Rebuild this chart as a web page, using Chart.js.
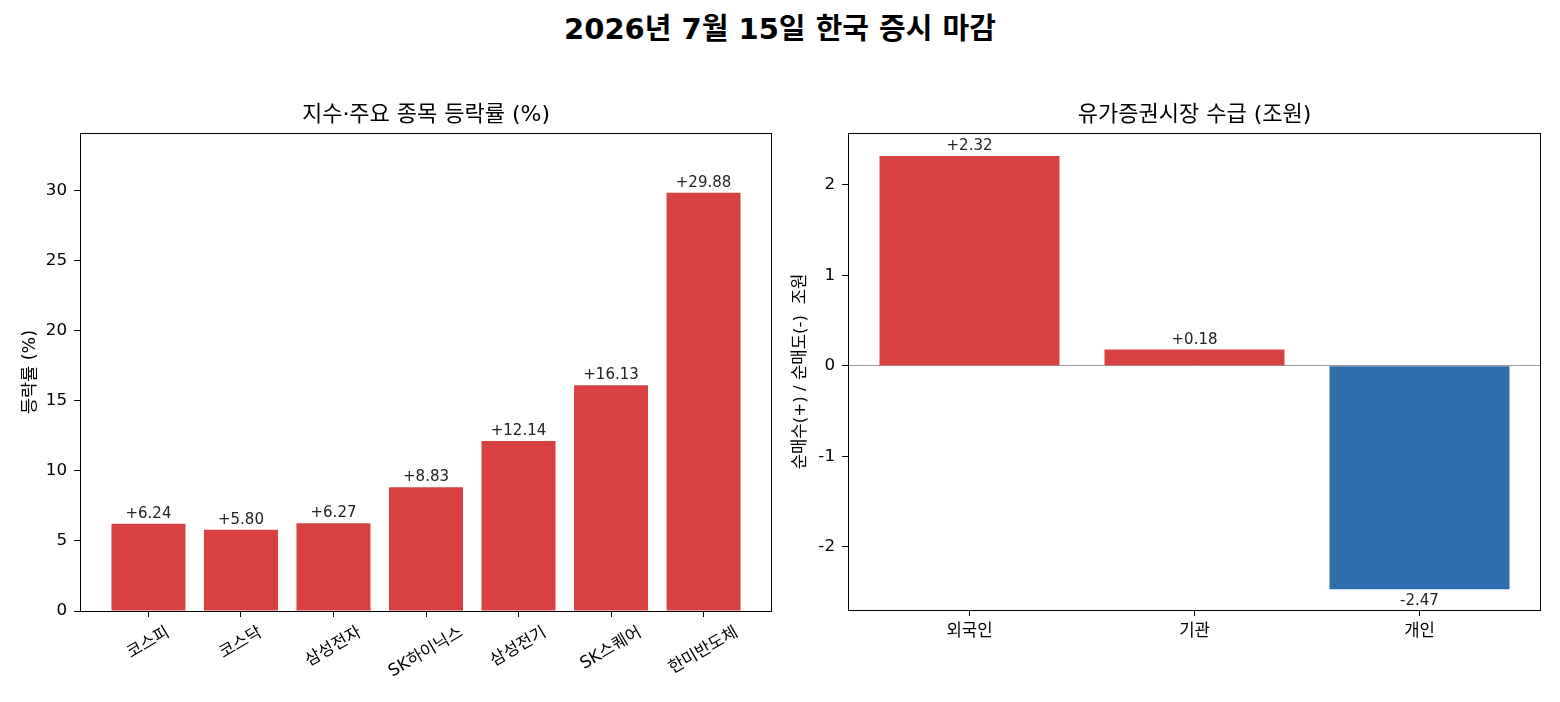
<!DOCTYPE html>
<html>
<head>
<meta charset="utf-8">
<script src="https://cdn.jsdelivr.net/npm/chart.js@4.4.0/dist/chart.umd.min.js"></script>
<style>
  body { margin: 0; background: #fff; width: 1560px; height: 702px; position: relative; overflow: hidden; }
  #title { position: absolute; left: 0; top: 13px; width: 1560px; text-align: center;
           font-family: "DejaVu Sans", "Noto Sans CJK KR"; font-weight: bold; font-size: 29px; line-height: 32px; }
  #c1 { position: absolute; left: 0; top: 0; }
  #c2 { position: absolute; left: 790px; top: 0; }
</style>
</head>
<body>
<div id="title">2026년 7월 15일 한국 증시 마감</div>
<canvas id="c1" width="790" height="702"></canvas>
<canvas id="c2" width="770" height="702"></canvas>
<script>
// data
var stockNames = ["코스피", "코스닥", "삼성전자", "SK하이닉스", "삼성전기", "SK스퀘어", "한미반도체"];
var stockChanges = [6.24, 5.80, 6.27, 8.83, 12.14, 16.13, 29.88];
var investorNames = ["외국인", "기관", "개인"];
var investorFlows = [2.32, 0.18, -2.47];

var FONT = '"DejaVu Sans", "Noto Sans CJK KR", sans-serif';
var RED = '#d94141';
var BLUE = '#2e6ead';
var TICK = 16.7;

Chart.defaults.font.family = FONT;
Chart.defaults.color = '#000';

function signed(v) {
    return (v >= 0 ? '+' : '') + v.toFixed(2);
}

// box round the plot area + subplot title + value labels
var framePlugin = {
    id: 'frame',
    afterDatasetsDraw: function (chart, args, opts) {
        var ctx = chart.ctx;
        var a = chart.chartArea;
        ctx.save();
        ctx.strokeStyle = '#000';
        ctx.lineWidth = 1;
        ctx.strokeRect(Math.round(a.left) + 0.5, Math.round(a.top) + 0.5,
            Math.round(a.right - a.left) - 1, Math.round(a.bottom - a.top));

        // value labels
        var meta = chart.getDatasetMeta(0);
        var vals = chart.data.datasets[0].data;
        ctx.font = '15px ' + FONT;
        ctx.fillStyle = '#222';
        ctx.textAlign = 'center';
        ctx.textBaseline = 'alphabetic';
        meta.data.forEach(function (bar, i) {
            var v = vals[i].y;
            if (v >= 0) {
                ctx.fillText(signed(v), bar.x, bar.y - 6);
            } else {
                ctx.fillText(signed(v), bar.x, bar.y + 16);
            }
        });

        // subplot title
        ctx.font = '22px ' + FONT;
        ctx.fillStyle = '#000';
        ctx.textBaseline = 'middle';
        ctx.fillText(opts.title, (a.left + a.right) / 2, 115);
        ctx.restore();
    }
};

// rotated x labels, centred on the tick like matplotlib
var rotLabels = {
    id: 'rotLabels',
    afterDraw: function (chart, args, opts) {
        if (!opts.labels) return;
        var ctx = chart.ctx;
        var xs = chart.scales.x;
        var ang = 30 * Math.PI / 180;
        ctx.save();
        ctx.font = TICK + 'px ' + FONT;
        ctx.fillStyle = '#000';
        ctx.textAlign = 'center';
        ctx.textBaseline = 'middle';
        opts.labels.forEach(function (lab, i) {
            var w = ctx.measureText(lab).width;
            var h = w * Math.sin(ang) + TICK * 1.2 * Math.cos(ang);
            var x = xs.getPixelForValue(i);
            var y = xs.top + 12 + h / 2;
            ctx.save();
            ctx.translate(x, y);
            ctx.rotate(-ang);
            ctx.fillText(lab, 0, 0);
            ctx.restore();
        });
        ctx.restore();
    }
};

var leftData = stockChanges.map(function (v, i) { return {x: i, y: v}; });
var rightData = investorFlows.map(function (v, i) { return {x: i, y: v}; });

new Chart(document.getElementById('c1'), {
    type: 'bar',
    data: {
        datasets: [{
            data: leftData,
            backgroundColor: RED,
            barPercentage: 0.8,
            categoryPercentage: 1.0
        }]
    },
    options: {
        responsive: false,
        animation: false,
        layout: { padding: { top: 133, right: 18, left: 0, bottom: 0 } },
        plugins: {
            legend: { display: false },
            tooltip: { enabled: false },
            frame: { title: '지수·주요 종목 등락률 (%)' },
            rotLabels: { labels: stockNames }
        },
        scales: {
            x: {
                type: 'linear',
                offset: false,
                min: -0.74,
                max: 6.74,
                afterFit: function (s) { s.height = 91; },
                ticks: { stepSize: 1, includeBounds: false, display: false },
                grid: { offset: false, drawOnChartArea: false, tickLength: 6, color: '#000' },
                border: { display: false }
            },
            y: {
                min: 0,
                max: 34.14,
                afterFit: function (s) { s.width = 80; },
                ticks: { stepSize: 5, includeBounds: false, padding: 7, font: { size: TICK } },
                grid: { drawOnChartArea: false, tickLength: 6, color: '#000' },
                border: { display: false },
                title: { display: true, text: '등락률 (%)', font: { size: 17.5 }, padding: { top: 20, bottom: 0 } }
            }
        }
    },
    plugins: [framePlugin, rotLabels]
});

new Chart(document.getElementById('c2'), {
    type: 'bar',
    data: {
        datasets: [{
            data: rightData,
            backgroundColor: investorFlows.map(function (v) { return v >= 0 ? RED : BLUE; }),
            barPercentage: 0.8,
            categoryPercentage: 1.0
        }]
    },
    options: {
        responsive: false,
        animation: false,
        layout: { padding: { top: 133, right: 19, left: 0, bottom: 0 } },
        plugins: {
            legend: { display: false },
            tooltip: { enabled: false },
            frame: { title: '유가증권시장 수급 (조원)' }
        },
        scales: {
            x: {
                type: 'linear',
                offset: false,
                min: -0.54,
                max: 2.54,
                afterFit: function (s) { s.height = 92; },
                ticks: {
                    stepSize: 1, includeBounds: false, padding: 6, font: { size: TICK },
                    callback: function (v) { return investorNames[v]; }
                },
                grid: { offset: false, drawOnChartArea: false, tickLength: 6, color: '#000' },
                border: { display: false }
            },
            y: {
                min: -2.70,
                max: 2.575,
                afterFit: function (s) { s.width = 58; },
                ticks: {
                    stepSize: 1, includeBounds: false, padding: 7, font: { size: TICK },
                    callback: function (v) { return String(v); }
                },
                grid: {
                    drawOnChartArea: true,
                    tickLength: 6,
                    tickColor: '#000',
                    color: function (c) { return c.tick && c.tick.value === 0 ? '#999' : 'rgba(0,0,0,0)'; }
                },
                border: { display: false },
                title: { display: true, text: '순매수(+) / 순매도(-)  조원', font: { size: TICK }, padding: { top: 1, bottom: 0 } }
            }
        }
    },
    plugins: [framePlugin]
});
</script>
</body>
</html>
